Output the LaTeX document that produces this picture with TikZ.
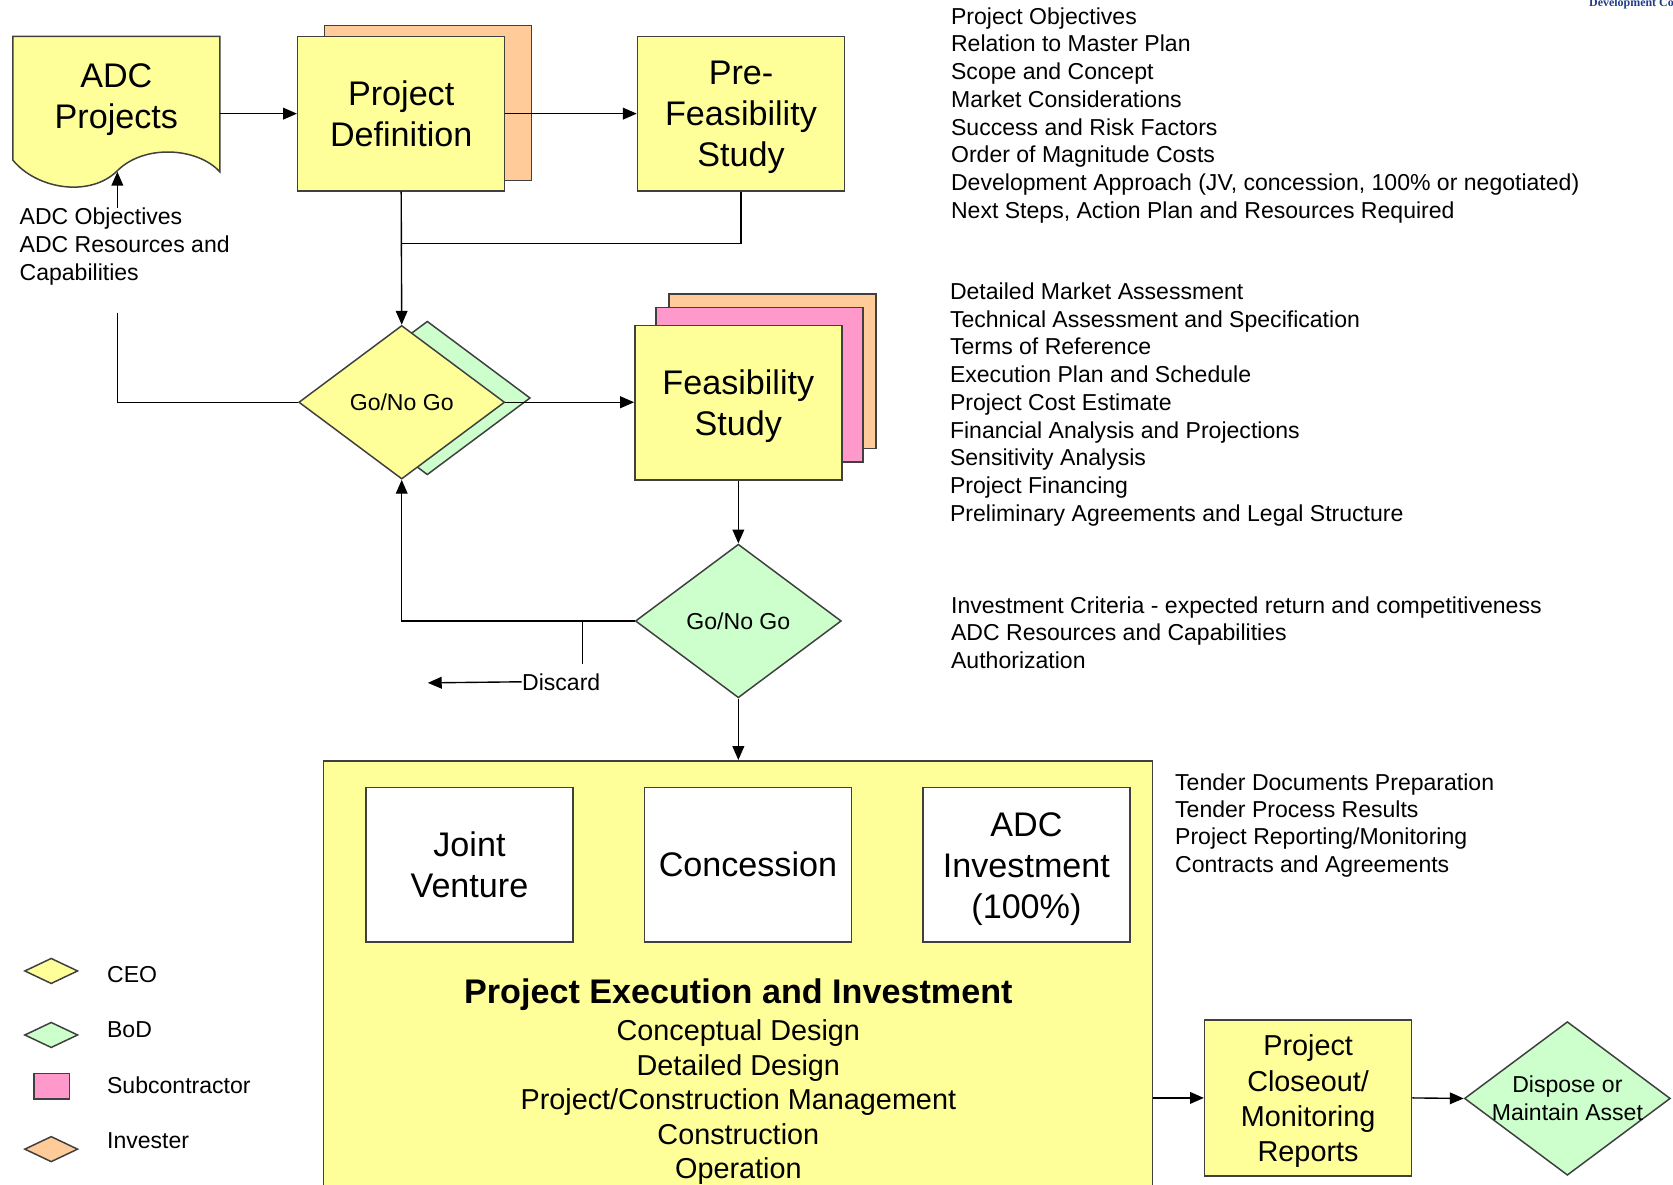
\documentclass[tikz,border=0pt]{standalone}
\usepackage{fontspec}
\setmainfont{Liberation Sans}
\newfontfamily\serifft{Liberation Serif}
\usetikzlibrary{arrows.meta,shapes.geometric}
\definecolor{cyel}{HTML}{FFFF99}
\definecolor{cgrn}{HTML}{CCFFCC}
\definecolor{cpink}{HTML}{FF99CC}
\definecolor{corg}{HTML}{FFCC99}
\definecolor{cedge}{HTML}{404040}
\definecolor{cblue}{HTML}{1F3C88}
\begin{document}
\begin{tikzpicture}[x=0.5pt,y=-0.5pt,
  shp/.style={draw=cedge,line width=0.7pt,inner sep=0pt},
  boxlabel/.style={align=center,inner sep=0pt,font=\fontsize{16}{19.3}\selectfont},
  procbox/.style={shp,rectangle,fill=cyel,minimum width=97pt,minimum height=72.5pt},
  backbox/.style={shp,rectangle,minimum width=97pt,minimum height=72.5pt},
  optbox/.style={shp,rectangle,fill=white,minimum width=97pt,minimum height=72.5pt},
  dec/.style={shp,diamond,minimum width=96.5pt,minimum height=72pt,font=\fontsize{10.8}{13}\selectfont},
  smalltxt/.style={font=\fontsize{10.8}{13}\selectfont,inner sep=0pt},
  sidetxt/.style={smalltxt,align=left,anchor=west},
  conn/.style={line width=0.65pt,draw=black},
  arr/.style={conn,-{Triangle[length=6.5pt,width=5.5pt]}},
  legd/.style={shp,diamond,minimum width=25pt,minimum height=12pt},
]
\useasboundingbox (0,0) rectangle (1568,1110);

% corner fragment
\node[anchor=base west,inner sep=0pt,text=cblue,font=\serifft\bfseries\fontsize{5.6}{6}\selectfont] (corner) at (1489,6) {Development Corporation};

% ADC Projects document shape
\draw[shp,fill=cyel] (12,34) -- (206,34) -- (206,161)
  .. controls (185,138) and (135,135) .. (110,160)
  .. controls (85,185) and (35,178) .. (12,150) -- cycle;
\node[boxlabel,minimum width=97pt] (adc) at (109,93) {ADC\\Projects};
\coordinate (wave) at (110,161);
\node[sidetxt] (adcin) at (18,231) {ADC Objectives\\ADC Resources and\\Capabilities};
\coordinate (lk) at (110,293);

% Project definition
\node[backbox,fill=corg] (pdback) at (401,96.5) {};
\node[procbox,label={[boxlabel]center:{Project\\Definition}}] (pd) at (376,106.5) {};
% Pre-feasibility
\node[procbox,label={[boxlabel,yshift=-1.6pt]center:{Pre-\\Feasibility\\Study}}] (pfs) at (694.5,106.5) {};
\coordinate (j1) at (376,228);

% Go/No Go 1
\node[dec,fill=cgrn] (gng1s) at (400.5,373) {};
\node[dec,fill=cyel] (gng1) at (376.5,377) {Go/No Go};

% Feasibility study
\node[backbox,fill=corg] (fso) at (724,348) {};
\node[backbox,fill=cpink] (fsp) at (712,360.5) {};
\node[procbox,label={[boxlabel,yshift=-1.5pt]center:{Feasibility\\Study}}] (fs) at (692,377.5) {};

% Go/No Go 2
\node[dec,fill=cgrn] (gng2) at (692,582) {Go/No Go};
\coordinate (dj) at (546,582);
\node[smalltxt] (disc) at (526,639) {Discard};
\coordinate (discend) at (401,640);

% Project execution
\node[shp,rectangle,fill=cyel,minimum width=388.5pt,minimum height=206pt] (pei) at (691.5,919) {};
\node[optbox,label={[boxlabel]center:{Joint\\Venture}}] (jv) at (440,810.5) {};
\node[optbox,label={[boxlabel]center:{Concession}}] (con) at (701,810.5) {};
\node[optbox,label={[boxlabel,yshift=-2pt]center:{ADC\\Investment\\(100\%)}}] (inv) at (962,810.5) {};
\node[inner sep=0pt,font=\bfseries\fontsize{16}{19}\selectfont] (peititle) at (692,932) {Project Execution and Investment};
\node[inner sep=0pt,align=center,font=\fontsize{13.5}{16.2}\selectfont] (peilist) at (692,1033) {Conceptual Design\\Detailed Design\\Project/Construction Management\\Construction\\Operation};

% Closeout and dispose
\node[shp,rectangle,fill=cyel,minimum width=97pt,minimum height=73pt,label={[align=center,inner sep=0pt,font=\fontsize{13.5}{16.5}\selectfont,yshift=-1.6pt]center:{Project\\Closeout/\\Monitoring\\Reports}}] (clo) at (1226,1029) {};
\node[dec,fill=cgrn] (disp) at (1469,1029.5) {};
\node[smalltxt,align=center] (disptxt) at (1469,1029) {Dispose or\\Maintain Asset};

% Side texts
\node[sidetxt] (t1) at (891,108) {Project Objectives\\Relation to Master Plan\\Scope and Concept\\Market Considerations\\Success and Risk Factors\\Order of Magnitude Costs\\Development Approach (JV, concession, 100\% or negotiated)\\Next Steps, Action Plan and Resources Required};
\node[sidetxt] (t2) at (890,379) {Detailed Market Assessment\\Technical Assessment and Specification\\Terms of Reference\\Execution Plan and Schedule\\Project Cost Estimate\\Financial Analysis and Projections\\Sensitivity Analysis\\Project Financing\\Preliminary Agreements and Legal Structure};
\node[sidetxt] (t3) at (891,593) {Investment Criteria - expected return and competitiveness\\ADC Resources and Capabilities\\Authorization};
\node[sidetxt,font=\fontsize{10.8}{12.85}\selectfont] (t4) at (1101,773.5) {Tender Documents Preparation\\Tender Process Results\\Project Reporting/Monitoring\\Contracts and Agreements};

% Legend
\node[legd,fill=cyel] (lceo) at (48,910) {};
\node[sidetxt] (tceo) at (100,913) {CEO};
\node[legd,fill=cgrn] (lbod) at (48,970) {};
\node[sidetxt] (tbod) at (100,965) {BoD};
\node[shp,rectangle,fill=cpink,minimum width=16.5pt,minimum height=12pt] (lsub) at (48.5,1018) {};
\node[sidetxt] (tsub) at (100,1017) {Subcontractor};
\node[legd,fill=corg] (linv) at (48,1077) {};
\node[sidetxt] (tinv) at (100,1069) {Invester};

% Connectors
\draw[arr] (wave |- adcin.north) -- (wave);
\draw[conn] (lk) |- (gng1.west);
\draw[arr] (adc.east |- pd.west) -- (pd.west);
\draw[arr] (pd.east) -- (pfs.west);
\draw[arr] (pd.south) -- (gng1.north);
\draw[conn] (pfs.south) |- (j1);
\draw[arr] (gng1.east) -- (fs.west |- gng1.east);
\draw[arr] (fs.south) -- (gng2.north);
\draw[arr] (gng2.west) -| (gng1.south);
\draw[conn] (dj) -- ([yshift=4pt]dj |- disc.north);
\draw[arr] (disc.west) -- (discend);
\draw[arr] (gng2.south) -- (gng2.south |- pei.north);
\draw[arr] (pei.east |- clo.west) -- (clo.west);
\draw[arr] (clo.east) -- (disp.west);
\end{tikzpicture}
\end{document}
